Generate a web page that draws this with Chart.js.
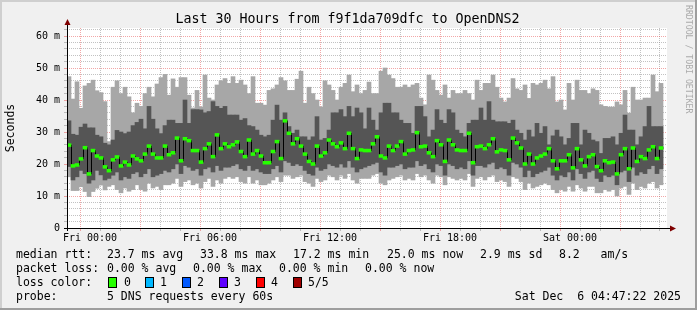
<!DOCTYPE html>
<html>
<head>
<meta charset="utf-8">
<script src="https://cdn.jsdelivr.net/npm/chart.js@4.4.1/dist/chart.umd.min.js"></script>
<style>
html, body { margin: 0; padding: 0; background: #f0f0f0; }
#wrap { position: relative; width: 697px; height: 310px; overflow: hidden; }
#c { position: absolute; left: 0; top: 0; }
.t { position: absolute; font-family: 'DejaVu Sans Mono', monospace; font-size: 11.5px; line-height: 14px; color: #000; white-space: pre; }
.sq { position: absolute; width: 7px; height: 9px; border: 1px solid #000; top: 277px; }
#title { position: absolute; left: 0; width: 695px; top: 11px; text-align: center; font-family: 'DejaVu Sans Mono', monospace; font-size: 13.3px; line-height: 16px; color: #000; white-space: pre; }
#wm { position: absolute; left: 684px; top: 5px; writing-mode: vertical-rl; font-family: 'DejaVu Sans Mono', monospace; font-size: 8.2px; color: #aaaaaa; white-space: pre; }
</style>
</head>
<body>
<div id="wrap">
<canvas id="c" width="697" height="310"></canvas>
<div id="title">Last 30 Hours from f9f1da709dfc to OpenDNS2</div>
<div id="wm">RRDTOOL / TOBI OETIKER</div>

<div class="t" style="left:16px;top:247px">median rtt:</div>
<div class="t" style="left:107px;top:247px">23.7 ms avg</div>
<div class="t" style="left:200px;top:247px">33.8 ms max</div>
<div class="t" style="left:293px;top:247px">17.2 ms min</div>
<div class="t" style="left:387px;top:247px">25.0 ms now</div>
<div class="t" style="left:480px;top:247px">2.9 ms sd</div>
<div class="t" style="left:559px;top:247px">8.2   am/s</div>

<div class="t" style="left:16px;top:261px">packet loss:</div>
<div class="t" style="left:107px;top:261px">0.00 % avg</div>
<div class="t" style="left:193px;top:261px">0.00 % max</div>
<div class="t" style="left:279px;top:261px">0.00 % min</div>
<div class="t" style="left:365px;top:261px">0.00 % now</div>

<div class="t" style="left:16px;top:275px">loss color:</div>
<div class="sq" style="left:108px;background:#26ff00"></div>
<div class="t" style="left:124px;top:275px">0</div>
<div class="sq" style="left:145px;background:#00b8ff"></div>
<div class="t" style="left:160px;top:275px">1</div>
<div class="sq" style="left:182px;background:#0059ff"></div>
<div class="t" style="left:197px;top:275px">2</div>
<div class="sq" style="left:219px;background:#5e00ff"></div>
<div class="t" style="left:234px;top:275px">3</div>
<div class="sq" style="left:256px;background:#ff0000"></div>
<div class="t" style="left:271px;top:275px">4</div>
<div class="sq" style="left:293px;background:#a00000"></div>
<div class="t" style="left:308px;top:275px">5/5</div>

<div class="t" style="left:16px;top:289px">probe:</div>
<div class="t" style="left:107px;top:289px">5 DNS requests every 60s</div>
<div class="t" style="right:16px;top:289px">Sat Dec  6 04:47:22 2025</div>
</div>

<script>
// 12-minute buckets, hours counted from Fri 00:00
const startHour = -1.15;
const stepHours = 0.2;
const spanHours = 30;

// 5 DNS pings per bucket: min, 2nd, median, 4th, max (ms)
const maxMs = [
  47.3, 40.3, 45.7, 37.4, 44.4, 45.2, 46.2, 42.9, 42.3, 39.5, 27.0, 44.0, 46.0, 42.0, 44.0, 41.0, 36.0, 39.0, 38.0, 42.0, 44.0, 41.0, 45.0, 47.0, 48.0,
  41.5, 46.6, 44.0, 47.0, 47.0, 41.5, 37.5, 43.0, 37.8, 47.8, 40.6, 40.0, 44.7, 46.0, 46.7, 45.2, 47.3, 45.2, 46.2, 44.7, 42.0, 47.3, 39.0, 39.0, 38.4,
  43.0, 43.5, 44.7, 47.0, 46.0, 43.0, 43.0, 46.5, 49.0, 39.0, 44.0, 42.0, 40.0, 37.8, 46.0, 44.7, 43.0, 40.0, 44.0, 45.2, 47.8, 42.6, 44.7, 42.0, 43.0,
  45.6, 42.0, 42.0, 49.0, 50.0, 47.8, 46.7, 44.0, 44.0, 44.7, 44.0, 44.7, 45.2, 40.6, 38.5, 47.8, 46.2, 43.0, 41.5, 44.7, 40.6, 43.0, 42.0, 42.0, 43.0,
  42.0, 40.0, 46.2, 43.0, 45.2, 45.2, 47.8, 44.0, 40.6, 39.4, 40.6, 46.7, 43.5, 43.0, 44.7, 40.5, 45.2, 44.7, 45.2, 46.2, 43.5, 47.3, 39.4, 40.0, 36.9,
  45.2, 40.0, 46.2, 43.0, 43.0, 42.0, 43.5, 43.0, 38.5, 38.0, 37.8, 37.8, 39.4, 38.5, 43.0, 35.9, 44.0, 40.0, 40.0, 40.6, 40.6, 47.8, 42.6, 45.2
];
const upperMs = [
  33.5, 29.3, 29.0, 31.5, 32.5, 31.3, 31.3, 29.0, 28.5, 26.5, 26.0, 27.5, 30.5, 30.0, 29.5, 30.0, 32.0, 33.0, 34.0, 31.0, 38.0, 34.0, 31.0, 29.5, 32.0,
  33.7, 33.7, 32.7, 32.7, 40.0, 32.7, 37.0, 37.0, 36.9, 36.0, 36.4, 39.5, 38.0, 37.4, 38.0, 35.3, 35.3, 35.3, 33.7, 34.2, 32.0, 31.7, 30.6, 29.0, 28.5,
  29.0, 33.7, 38.4, 33.7, 36.0, 31.7, 29.6, 30.6, 28.5, 28.5, 27.5, 28.5, 34.8, 27.5, 28.0, 30.6, 36.0, 36.0, 37.0, 34.8, 38.0, 34.8, 37.5, 36.0, 31.0,
  37.5, 33.7, 30.6, 36.0, 39.0, 39.0, 36.0, 36.0, 33.7, 32.7, 32.7, 29.6, 38.0, 38.0, 34.8, 28.5, 30.6, 37.0, 33.7, 32.7, 37.0, 36.0, 30.6, 29.6, 28.5,
  32.7, 33.7, 33.7, 37.5, 33.7, 39.5, 33.7, 33.2, 33.2, 33.2, 32.7, 33.7, 30.6, 29.6, 27.5, 30.6, 28.5, 32.7, 29.6, 31.7, 26.0, 28.8, 30.6, 28.5, 26.0,
  28.0, 32.7, 32.7, 26.0, 30.6, 29.6, 27.5, 27.0, 23.3, 28.0, 28.0, 28.5, 26.0, 29.6, 35.3, 30.6, 30.6, 26.0, 28.5, 31.7, 38.0, 31.7, 31.7, 31.7
];
const medianMs = [
  25.9, 19.4, 19.7, 21.6, 25.1, 16.9, 24.2, 22.5, 21.9, 19.1, 17.9, 21.3, 22.2, 19.4, 20.6, 19.7, 22.5, 21.6, 21.0, 23.1, 25.6, 23.1, 21.9, 21.9, 25.6,
  22.9, 23.5, 28.1, 21.0, 27.9, 27.3, 24.2, 24.2, 20.6, 24.8, 26.3, 22.3, 29.1, 24.8, 26.3, 25.4, 26.0, 26.9, 23.9, 22.3, 27.5, 23.1, 24.2, 22.5, 20.4,
  20.4, 23.9, 27.0, 21.7, 33.5, 29.6, 26.3, 27.9, 25.6, 23.1, 20.8, 20.0, 25.6, 22.5, 23.5, 27.5, 26.3, 25.4, 26.6, 24.8, 29.6, 24.8, 21.7, 24.4, 24.2,
  24.2, 26.3, 28.5, 22.5, 21.9, 25.6, 24.2, 25.6, 27.0, 23.1, 24.2, 24.4, 29.8, 25.4, 25.6, 23.5, 22.3, 27.3, 26.0, 20.8, 27.5, 26.0, 24.4, 24.2, 24.2,
  29.6, 20.4, 25.4, 25.6, 24.8, 26.0, 27.9, 23.8, 24.4, 24.2, 21.3, 28.1, 26.6, 25.0, 20.0, 23.1, 20.0, 21.9, 22.5, 23.1, 24.8, 21.0, 18.5, 21.0, 21.0,
  22.9, 18.8, 24.8, 21.3, 19.4, 22.3, 22.9, 19.2, 17.9, 21.0, 20.4, 20.6, 16.9, 22.9, 24.8, 18.5, 25.0, 20.8, 22.3, 21.7, 24.4, 25.4, 21.7, 25.0
];
const lowerMs = [
  19.2, 15.0, 16.0, 18.0, 17.0, 14.0, 15.0, 18.0, 16.6, 15.0, 15.5, 16.5, 17.5, 15.0, 16.0, 15.5, 17.0, 17.5, 16.0, 17.0, 18.5, 16.0, 16.5, 17.0, 18.0,
  17.5, 18.5, 20.0, 17.0, 19.5, 19.0, 18.0, 18.5, 16.5, 18.5, 19.0, 17.5, 19.5, 18.0, 19.0, 19.0, 19.5, 20.0, 18.5, 18.0, 19.5, 18.0, 18.5, 17.5, 17.0,
  17.0, 18.5, 19.5, 17.5, 21.0, 20.5, 19.5, 20.0, 19.5, 18.0, 17.0, 16.5, 19.0, 18.0, 18.5, 20.0, 19.5, 19.0, 20.0, 19.0, 21.0, 19.0, 17.5, 18.5, 19.0,
  19.5, 20.0, 20.5, 17.5, 16.5, 19.0, 19.0, 19.5, 20.0, 18.5, 19.0, 19.0, 21.0, 19.5, 20.0, 18.5, 17.5, 20.0, 19.5, 16.5, 20.0, 19.5, 18.5, 19.0, 18.5,
  21.0, 16.5, 19.5, 19.5, 19.0, 20.0, 20.5, 18.5, 19.0, 18.5, 16.5, 20.5, 20.0, 19.0, 16.0, 18.0, 16.0, 17.0, 17.5, 18.0, 19.0, 16.5, 15.0, 16.5, 16.0,
  17.5, 15.0, 18.5, 17.0, 15.5, 17.5, 18.0, 15.5, 14.5, 16.5, 16.0, 16.5, 13.5, 17.5, 18.0, 14.5, 19.0, 16.5, 17.5, 17.0, 18.5, 19.5, 17.0, 18.5
];
const minMs = [
  16.0, 11.7, 11.7, 12.9, 11.4, 9.8, 11.4, 12.4, 13.4, 11.9, 13.0, 13.5, 12.0, 11.0, 12.5, 11.5, 12.0, 13.5, 12.0, 11.5, 14.0, 12.5, 13.0, 12.0, 13.5,
  13.5, 14.0, 15.5, 13.0, 14.5, 15.0, 13.5, 14.0, 12.5, 14.5, 15.5, 13.0, 15.0, 14.0, 15.5, 16.0, 15.5, 16.0, 14.5, 14.0, 16.0, 14.0, 15.0, 13.5, 13.5,
  14.0, 15.0, 16.0, 14.5, 16.5, 16.5, 15.5, 16.0, 16.5, 14.5, 14.0, 13.0, 15.5, 14.5, 15.0, 16.5, 16.0, 15.0, 16.5, 15.5, 17.0, 15.0, 14.0, 15.5, 15.5,
  15.5, 16.5, 17.0, 14.0, 13.5, 15.0, 15.5, 16.0, 16.5, 15.0, 15.5, 15.0, 17.0, 16.0, 16.5, 15.0, 14.0, 16.5, 16.0, 13.5, 16.0, 15.5, 15.0, 15.5, 15.0,
  17.0, 13.0, 15.5, 16.0, 15.0, 16.0, 16.5, 14.5, 15.0, 14.5, 13.0, 16.0, 15.5, 14.5, 12.0, 14.0, 12.5, 13.0, 13.5, 14.0, 13.5, 12.0, 11.0, 12.0, 11.5,
  13.0, 11.5, 13.5, 12.5, 11.5, 13.0, 13.0, 11.0, 11.0, 12.0, 11.5, 12.0, 10.0, 12.5, 13.0, 10.5, 14.0, 12.0, 13.0, 12.5, 14.0, 14.5, 12.5, 13.5
];

const yTickValues = [0, 10, 20, 30, 40, 50, 60];
const yTickLabels = ['0', '10 m', '20 m', '30 m', '40 m', '50 m', '60 m'];
const xTickHours = [0, 6, 12, 18, 24];
const xTickLabels = ['Fri 00:00', 'Fri 06:00', 'Fri 12:00', 'Fri 18:00', 'Sat 00:00'];

const MONO = "'DejaVu Sans Mono', monospace";
const GRID = 'rgba(143,143,143,0.55)';
const MGRID = 'rgba(230,80,80,0.5)';

const mid = medianMs.map((_, i) => startHour + (i + 0.5) * stepHours);
const light = mid.map((x, i) => ({ x: x, y: [minMs[i], maxMs[i]] }));
const dark = mid.map((x, i) => ({ x: x, y: [lowerMs[i], upperMs[i]] }));
const marks = mid.map((x, i) => ({ x: x, y: [medianMs[i] - 0.45, medianMs[i] + 0.45] }));
const steps = medianMs.map((m, i) => ({ x: startHour + i * stepHours, y: m }));
steps.push({ x: startHour + medianMs.length * stepHours, y: medianMs[medianMs.length - 1] });

const frame = {
  id: 'frame',
  beforeDraw(chart) {
    const ctx = chart.ctx, a = chart.chartArea;
    const w = chart.width, h = chart.height;
    ctx.save();
    ctx.fillStyle = '#f0f0f0';
    ctx.fillRect(0, 0, w, h);
    ctx.fillStyle = '#cfcfcf';
    ctx.fillRect(0, 0, w, 2);
    ctx.fillRect(0, 0, 2, h);
    ctx.fillStyle = '#9e9e9e';
    ctx.fillRect(0, h - 2, w, 2);
    ctx.fillRect(w - 2, 0, 2, h);
    ctx.fillStyle = '#ffffff';
    ctx.fillRect(a.left, a.top, a.right - a.left, a.bottom - a.top);
    ctx.restore();
  },
  // keep the 1px step line crisp
  beforeDatasetDraw(chart, args) {
    if (args.index === 2) { chart.ctx.save(); chart.ctx.translate(0.5, 0); }
  },
  afterDatasetDraw(chart, args) {
    if (args.index === 2) chart.ctx.restore();
  },
  afterDraw(chart) {
    const ctx = chart.ctx, a = chart.chartArea;
    const x0 = a.left + 0.5, y0 = a.bottom + 0.5;
    ctx.save();
    ctx.strokeStyle = '#000';
    ctx.lineWidth = 1;
    ctx.beginPath();
    ctx.moveTo(x0, a.bottom + 3);
    ctx.lineTo(x0, a.top - 4);
    ctx.moveTo(a.left - 3, y0);
    ctx.lineTo(a.right + 5, y0);
    ctx.stroke();
    ctx.fillStyle = '#7f0000';
    ctx.beginPath();
    ctx.moveTo(x0, a.top - 9);
    ctx.lineTo(x0 - 3, a.top - 3);
    ctx.lineTo(x0 + 3, a.top - 3);
    ctx.closePath();
    ctx.fill();
    ctx.beginPath();
    ctx.moveTo(a.right + 9, y0);
    ctx.lineTo(a.right + 3, y0 - 3);
    ctx.lineTo(a.right + 3, y0 + 3);
    ctx.closePath();
    ctx.fill();
    ctx.restore();
  }
};

const barOpts = { grouped: false, barPercentage: 1, categoryPercentage: 1, borderWidth: 0 };

new Chart(document.getElementById('c'), {
  type: 'bar',
  data: {
    datasets: [
      Object.assign({ label: 'min-max', data: light, backgroundColor: '#a7a7a7', order: 4 }, barOpts),
      Object.assign({ label: 'ping 2-4', data: dark, backgroundColor: '#555555', order: 3 }, barOpts),
      { type: 'line', label: 'median', data: steps, borderColor: '#000000', borderWidth: 1,
        stepped: true, pointRadius: 0, fill: false, order: 2 },
      Object.assign({ label: 'median rtt', data: marks, backgroundColor: '#26ff00', order: 1 }, barOpts)
    ]
  },
  options: {
    responsive: false,
    animation: false,
    events: [],
    layout: { padding: { left: 0, right: 30, top: 28, bottom: 0 } },
    plugins: {
      legend: { display: false },
      tooltip: { enabled: false }
    },
    scales: {
      x: {
        type: 'linear',
        min: startHour,
        max: startHour + spanHours,
        offset: false,
        z: 1,
        afterBuildTicks(scale) {
          const t = [];
          for (let h = Math.ceil(startHour); h <= startHour + spanHours; h++) t.push({ value: h });
          scale.ticks = t;
        },
        afterFit(scale) { scale.height = 82; },
        ticks: {
          autoSkip: false,
          maxRotation: 0,
          padding: 1,
          color: '#000',
          font: { family: MONO, size: 10 },
          callback(v) {
            const k = xTickHours.indexOf(v);
            return k >= 0 ? xTickLabels[k] : '';
          }
        },
        grid: {
          color: c => (c.tick && ((c.tick.value % 3) + 3) % 3 === 0) ? MGRID : GRID,
          tickColor: c => (c.tick && ((c.tick.value % 3) + 3) % 3 === 0) ? MGRID : GRID,
          tickLength: 3,
          lineWidth: 1
        },
        border: { display: false, dash: [1, 1] }
      },
      y: {
        min: 0,
        max: 62.5,
        z: 1,
        afterBuildTicks(scale) {
          const t = [];
          for (let v = 0; v <= 62; v += 2) t.push({ value: v });
          scale.ticks = t;
        },
        afterFit(scale) { scale.width = 67; },
        ticks: {
          autoSkip: false,
          padding: 4,
          color: '#000',
          font: { family: MONO, size: 10 },
          callback(v) {
            const k = yTickValues.indexOf(v);
            return k >= 0 ? yTickLabels[k] : '';
          }
        },
        grid: {
          color: c => (c.tick && c.tick.value % 10 === 0) ? MGRID : GRID,
          tickColor: c => (c.tick && c.tick.value % 10 === 0) ? MGRID : GRID,
          tickLength: 3,
          lineWidth: 1
        },
        border: { display: false, dash: [1, 1] },
        title: {
          display: true,
          text: 'Seconds',
          color: '#000',
          font: { family: MONO, size: 11.5 },
          padding: { top: 4, bottom: 0 }
        }
      }
    }
  },
  plugins: [frame]
});
</script>
</body>
</html>
